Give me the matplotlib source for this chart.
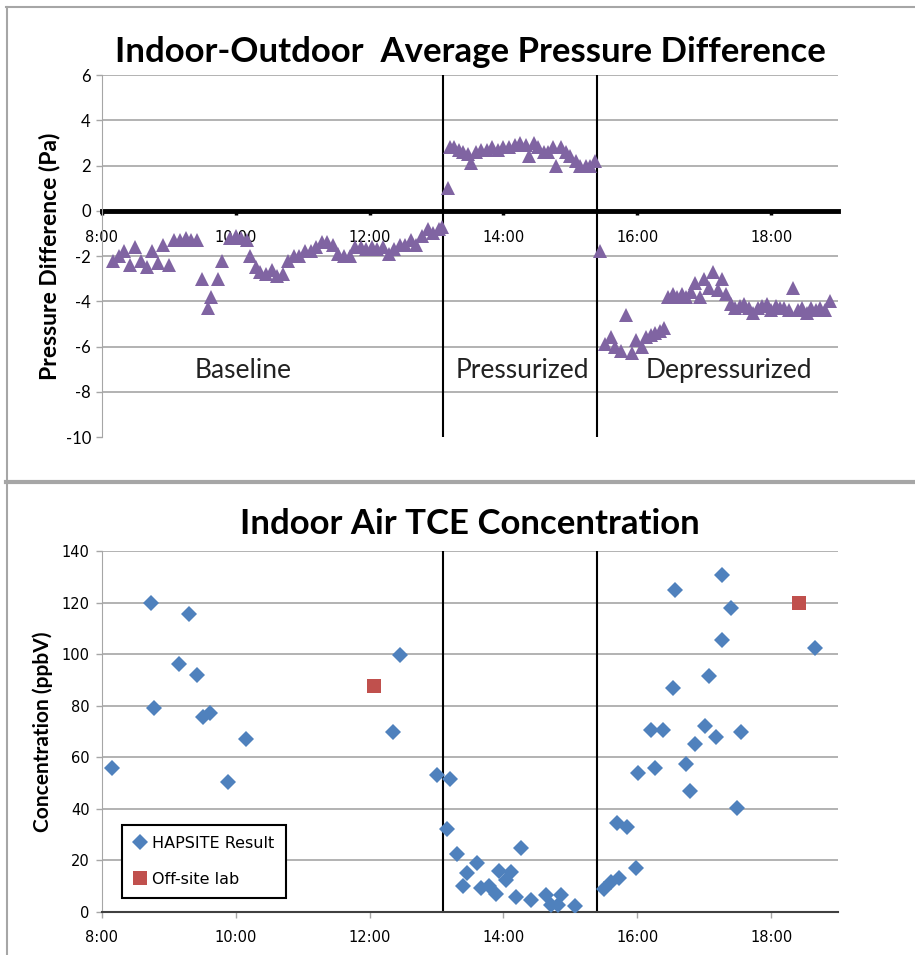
import numpy as np
import matplotlib.pyplot as plt
from matplotlib.ticker import FuncFormatter
from matplotlib.lines import Line2D

plt.rcParams['axes.unicode_minus'] = False

# indoor-outdoor pressure difference (Pa)
p_times = ["8:10", "8:15", "8:20", "8:25", "8:30", "8:35", "8:40", "8:45", "8:50", "8:55",
           "9:00", "9:05", "9:10", "9:15", "9:20", "9:25", "9:30", "9:35", "9:38", "9:44",
           "9:48", "9:55", "10:00", "10:05", "10:10", "10:13", "10:18", "10:22", "10:27", "10:32",
           "10:37", "10:42", "10:47", "10:52", "10:57", "11:02", "11:07", "11:12", "11:17", "11:22",
           "11:27", "11:32", "11:37", "11:42", "11:47", "11:52", "11:57", "12:02", "12:07", "12:12",
           "12:17", "12:22", "12:27", "12:32", "12:37", "12:42", "12:47", "12:52", "12:57", "13:02",
           "13:05",
           "13:10", "13:12", "13:16", "13:20", "13:24", "13:28", "13:31", "13:35", "13:40", "13:45",
           "13:50", "13:55", "14:00", "14:05", "14:10", "14:15", "14:20", "14:23", "14:27", "14:31",
           "14:36", "14:40", "14:44", "14:47", "14:52", "14:56", "15:00", "15:05", "15:09", "15:14",
           "15:18", "15:22",
           "15:27", "15:31", "15:36", "15:40", "15:45", "15:50", "15:55", "15:59", "16:04", "16:08",
           "16:12", "16:16", "16:20", "16:24", "16:28", "16:32", "16:36", "16:40", "16:44", "16:48",
           "16:52", "16:56", "17:00", "17:04", "17:08", "17:12", "17:16", "17:20", "17:24", "17:28",
           "17:32", "17:36", "17:40", "17:44", "17:48", "17:52", "17:56", "18:00", "18:04", "18:08",
           "18:12", "18:16", "18:20", "18:24", "18:28", "18:32", "18:36", "18:40", "18:44", "18:48",
           "18:53"]
p_values = [-2.2, -2.0, -1.8, -2.4, -1.6, -2.2, -2.5, -1.8, -2.3, -1.5,
            -2.4, -1.3, -1.3, -1.2, -1.3, -1.3, -3.0, -4.3, -3.8, -3.0,
            -2.2, -1.2, -1.1, -1.2, -1.3, -2.0, -2.5, -2.7, -2.8, -2.6,
            -2.9, -2.8, -2.2, -2.0, -2.0, -1.8, -1.8, -1.6, -1.4, -1.4,
            -1.5, -1.9, -2.0, -2.0, -1.6, -1.6, -1.7, -1.6, -1.7, -1.6,
            -1.9, -1.7, -1.5, -1.5, -1.3, -1.5, -1.1, -0.8, -1.0, -0.8,
            -0.7,
            1.0, 2.8, 2.8, 2.7, 2.6, 2.5, 2.1, 2.6, 2.7, 2.7,
            2.8, 2.7, 2.8, 2.8, 2.9, 3.0, 2.9, 2.4, 3.0, 2.8,
            2.6, 2.6, 2.8, 2.0, 2.8, 2.6, 2.4, 2.2, 2.0, 2.0,
            2.0, 2.2,
            -1.8, -5.9, -5.6, -6.0, -6.2, -4.6, -6.3, -5.7, -6.0, -5.6,
            -5.5, -5.4, -5.3, -5.2, -3.8, -3.7, -3.8, -3.7, -3.8, -3.6,
            -3.2, -3.8, -3.0, -3.4, -2.7, -3.5, -3.0, -3.7, -4.1, -4.3,
            -4.2, -4.1, -4.3, -4.5, -4.3, -4.2, -4.1, -4.4, -4.2, -4.3,
            -4.3, -4.4, -3.4, -4.4, -4.3, -4.5, -4.3, -4.4, -4.3, -4.4,
            -4.0]

# TCE concentration (ppbV)
hap_times = ["8:09", "8:44", "8:47", "9:09", "9:18", "9:25", "9:31", "9:37", "9:53", "10:09",
             "12:21", "12:27", "13:00", "13:09", "13:12", "13:18", "13:24", "13:27", "13:36", "13:40",
             "13:47", "13:53", "13:56", "14:02", "14:07", "14:11", "14:16", "14:25", "14:38", "14:43",
             "14:49", "14:52", "15:04", "15:30", "15:36", "15:42", "15:44", "15:51", "15:59", "16:01",
             "16:12", "16:16", "16:23", "16:32", "16:34", "16:44", "16:47", "16:52", "17:01", "17:04",
             "17:11", "17:16", "17:16", "17:24", "17:29", "17:33", "18:39"]
hap_conc = [56, 120, 79, 96, 115.5, 92, 75.5, 77, 50.5, 67,
            70, 99.5, 53, 32, 51.5, 22.5, 10, 15, 19, 9.5,
            10, 7, 16, 12.5, 15.5, 6, 25, 4.5, 6.5, 2.7,
            2.7, 6.5, 2.3, 9, 11.5, 34.5, 13, 33, 17, 54,
            70.5, 56, 70.5, 87, 125, 57.5, 47, 65, 72, 91.5,
            68, 130.5, 105.5, 118, 40.5, 70, 102.5]
lab_times = ["12:04", "18:25"]
lab_conc = [87.5, 120]

phase_lines = ["13:06", "15:24"]
phase_names = ["Baseline", "Pressurized", "Depressurized"]
phase_text_times = ["10:07", "14:17", "17:22"]


def hrs(ts):
    return np.array([int(t.split(':')[0]) + int(t.split(':')[1]) / 60.0 for t in ts])


purple = '#8064A2'
blue = '#4F81BD'
red = '#C0504D'
grid_c = '#a6a6a6'
title_font = 'Lato'

fig = plt.figure(figsize=(9.15, 9.55), dpi=100)
W, H = 915.0, 955.0
ax1 = fig.add_axes([102 / W, 1 - 437 / H, 736 / W, 362 / H])
ax2 = fig.add_axes([102 / W, 1 - 912 / H, 736 / W, 361 / H])

hour_fmt = FuncFormatter(lambda v, pos: '%d:00' % v)

# ---- top: pressure difference
ax1.set_xlim(8, 19)
ax1.set_ylim(-10, 6)
for y in range(-8, 7, 2):
    if y != 0:
        ax1.axhline(y, color=grid_c, lw=1.2, zorder=0)
for t in hrs(phase_lines):
    ax1.axvline(t, color='black', lw=1.5, zorder=1)
ax1.plot(hrs(p_times), p_values, linestyle='none', marker='^', ms=10.5,
         color=purple, mec=purple, mew=0, zorder=3)
for name, t in zip(phase_names, hrs(phase_text_times)):
    ax1.text(t, -7.05, name, ha='center', va='center', fontsize=19,
             family=title_font, color='#222222')
ax1.spines['top'].set_visible(False)
ax1.spines['right'].set_visible(False)
ax1.spines['left'].set_color(grid_c)
ax1.spines['bottom'].set_position(('data', 0))
ax1.spines['bottom'].set_linewidth(3.5)
ax1.spines['bottom'].set_zorder(2)
ax1.set_xticks(range(8, 19, 2))
ax1.xaxis.set_major_formatter(hour_fmt)
ax1.tick_params(axis='x', direction='out', length=3, width=2.5, color='black',
                pad=11, labelsize=10.5)
ax1.set_yticks(range(-10, 7, 2))
ax1.tick_params(axis='y', direction='out', length=4, width=1, color=grid_c,
                pad=4, labelsize=12)
for lab in ax1.get_yticklabels():
    lab.set_family(title_font)
ax1.set_ylabel('Pressure Difference (Pa)', fontsize=16.5, fontweight='bold',
               family=title_font, labelpad=4)
ax1.set_title('Indoor-Outdoor  Average Pressure Difference', fontsize=25,
              fontweight='bold', family=title_font, pad=9)

# ---- bottom: TCE concentration
ax2.set_xlim(8, 19)
ax2.set_ylim(0, 140)
for y in range(20, 141, 20):
    ax2.axhline(y, color=grid_c, lw=1.2, zorder=0)
for t in hrs(phase_lines):
    ax2.axvline(t, color='black', lw=1.5, zorder=1)
ax2.plot(hrs(hap_times), hap_conc, linestyle='none', marker='D', ms=8,
         color=blue, mec=blue, mew=0, zorder=3, label='HAPSITE Result')
ax2.plot(hrs(lab_times), lab_conc, linestyle='none', marker='s', ms=10.5,
         color=red, mec=red, mew=0, zorder=3, label='Off-site lab')
ax2.spines['top'].set_visible(False)
ax2.spines['right'].set_visible(False)
ax2.spines['left'].set_color(grid_c)
ax2.spines['bottom'].set_color('#404040')
ax2.spines['bottom'].set_linewidth(1.5)
ax2.set_xticks(range(8, 19, 2))
ax2.xaxis.set_major_formatter(hour_fmt)
ax2.tick_params(axis='x', direction='out', length=4, width=1, color=grid_c,
                pad=9, labelsize=10.5)
ax2.set_yticks(range(0, 141, 20))
ax2.tick_params(axis='y', direction='out', length=4, width=1, color=grid_c,
                pad=5, labelsize=10.5)
ax2.set_ylabel('Concentration (ppbV)', fontsize=15, fontweight='bold',
               family=title_font, labelpad=6)
ax2.set_title('Indoor Air TCE Concentration', fontsize=25,
              fontweight='bold', family=title_font, pad=12)
leg = ax2.legend(loc='lower left', bbox_to_anchor=(0.027, 0.039), fontsize=11.5,
                 frameon=True, fancybox=False, framealpha=1, edgecolor='black',
                 labelspacing=1.3, handlelength=0.9, handletextpad=0.3,
                 borderpad=0.7, borderaxespad=0)
leg.get_frame().set_linewidth(1.5)

# chart-area frames
frame_c = '#a6a6a6'
fig.add_artist(Line2D([6 / W, 1], [1 - 7 / H, 1 - 7 / H], color=frame_c, lw=1.5))
fig.add_artist(Line2D([7 / W, 7 / W], [0, 1 - 7 / H], color=frame_c, lw=1.5))
fig.add_artist(Line2D([6 / W, 1], [1 - 482 / H, 1 - 482 / H], color=frame_c, lw=3))

fig.savefig('out.png', dpi=100)
